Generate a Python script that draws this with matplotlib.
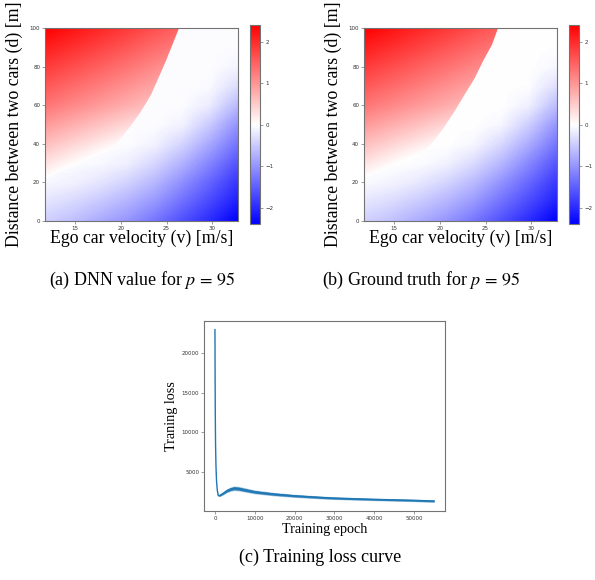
import numpy as np
import matplotlib.pyplot as plt
from matplotlib.patches import Polygon

plt.rcParams['font.family'] = ['Liberation Serif', 'DejaVu Serif']
plt.rcParams['mathtext.fontset'] = 'stix'

# value grid, rows = distance, cols = velocity
vel = [11.7, 14.7, 17.7, 20.7, 23.7, 26.7, 29.7, 32.7]
dist = [0, 10, 20, 30, 40, 50, 60, 70, 80, 90, 100]

dnn_low = [
    [-0.45, -0.60, -0.80, -1.00, -1.30, -1.65, -2.00, -2.40],
    [-0.25, -0.36, -0.52, -0.72, -0.98, -1.35, -1.72, -2.12],
    [-0.07, -0.13, -0.25, -0.42, -0.68, -1.05, -1.45, -1.88],
    [-0.02, -0.03, -0.06, -0.15, -0.38, -0.72, -1.15, -1.60],
    [-0.02, -0.02, -0.02, -0.03, -0.12, -0.40, -0.82, -1.30],
    [-0.02, -0.02, -0.02, -0.02, -0.03, -0.12, -0.50, -1.00],
    [-0.02, -0.02, -0.02, -0.02, -0.02, -0.03, -0.18, -0.65],
    [-0.02, -0.02, -0.02, -0.02, -0.02, -0.02, -0.05, -0.32],
    [-0.02, -0.02, -0.02, -0.02, -0.02, -0.02, -0.03, -0.10],
    [-0.02, -0.02, -0.02, -0.02, -0.02, -0.02, -0.02, -0.04],
    [-0.02, -0.02, -0.02, -0.02, -0.02, -0.02, -0.02, -0.03],
]
gt_low = [
    [-0.44, -0.58, -0.78, -0.99, -1.29, -1.64, -2.00, -2.40],
    [-0.24, -0.34, -0.50, -0.70, -0.96, -1.33, -1.70, -2.10],
    [-0.05, -0.11, -0.22, -0.40, -0.65, -1.02, -1.42, -1.86],
    [0.00, 0.00, -0.03, -0.12, -0.34, -0.68, -1.12, -1.58],
    [0.00, 0.00, 0.00, 0.00, -0.08, -0.36, -0.78, -1.28],
    [0.00, 0.00, 0.00, 0.00, 0.00, -0.08, -0.46, -0.98],
    [0.00, 0.00, 0.00, 0.00, 0.00, 0.00, -0.14, -0.62],
    [0.00, 0.00, 0.00, 0.00, 0.00, 0.00, -0.02, -0.30],
    [0.00, 0.00, 0.00, 0.00, 0.00, 0.00, 0.00, -0.08],
    [0.00, 0.00, 0.00, 0.00, 0.00, 0.00, 0.00, -0.02],
    [0.00, 0.00, 0.00, 0.00, 0.00, 0.00, 0.00, 0.00],
]

# safe (red) region values
red_vel = [11.7, 19.2, 26.7]
red_dist = [20, 60, 100]
dnn_red = [
    [-0.07, -0.67, -1.30],
    [1.30, 0.85, 0.40],
    [2.40, 1.95, 1.45],
]
gt_red = [
    [-0.07, -0.65, -1.25],
    [1.30, 0.87, 0.44],
    [2.40, 1.96, 1.50],
]

# edge of the red region
dnn_edge_v = [11.7, 15.0, 18.9, 19.7, 20.9, 22.2, 23.3, 24.9, 26.36]
dnn_edge_d = [22, 29, 37, 41.3, 48.2, 56.8, 65.5, 82.7, 100]
gt_edge_v = [11.7, 15.0, 18.5, 19.3, 20.4, 21.6, 22.7, 23.8, 24.7, 25.7, 26.36]
gt_edge_d = [22, 29, 37, 41.3, 48.2, 56.8, 65.5, 74, 82.7, 91.4, 100]

# training loss, spread = half width of the noisy band
epoch = [0, 40, 80, 150, 250, 400, 600, 830, 1200, 2000, 3000, 4000, 4830,
         6000, 8000, 10000, 12500, 15000, 20000, 26500, 30000, 35000, 40000,
         45000, 50000, 55000]
loss = [23000, 17000, 12500, 8500, 5800, 3800, 2600, 1980, 2000, 2250, 2600,
        2820, 2910, 2860, 2650, 2450, 2300, 2160, 1950, 1750, 1660, 1580,
        1500, 1440, 1375, 1290]
spread = [0, 0, 0, 0, 0, 0, 30, 60, 90, 130, 170, 190, 200, 200, 185, 170,
          160, 150, 135, 125, 120, 115, 110, 110, 110, 110]

W, H = 595, 580
spine_c = '0.45'


def px_axes(l, t, r, b):
    return fig.add_axes([l / W, 1 - b / H, (r - l) / W, (b - t) / H])


def style(ax, size=4):
    for s in ax.spines.values():
        s.set_color(spine_c)
        s.set_linewidth(0.8)
    ax.tick_params(labelsize=size, length=2, width=0.5, pad=1.5,
                   color=spine_c, labelcolor='0.2')
    for lab in ax.get_xticklabels() + ax.get_yticklabels():
        lab.set_family('DejaVu Sans')


def half_step_extent(xs, ys):
    dx = xs[1] - xs[0]
    dy = ys[1] - ys[0]
    return [xs[0] - dx / 2, xs[-1] + dx / 2, ys[0] - dy / 2, ys[-1] + dy / 2]


def value_map(ax, cax, low, red, edge_v, edge_d):
    kw = dict(cmap='bwr', vmin=-2.4, vmax=2.4, origin='lower', aspect='auto',
              interpolation='bilinear', interpolation_stage='data')
    im = ax.imshow(np.array(low), extent=half_step_extent(vel, dist), **kw)
    top = ax.imshow(np.array(red), extent=half_step_extent(red_vel, red_dist), **kw)
    verts = list(zip(edge_v, edge_d)) + [(edge_v[0], 100)]
    top.set_clip_path(Polygon(verts, closed=True, transform=ax.transData))
    ax.set_xlim(11.7, 32.8)
    ax.set_ylim(0, 100)
    ax.set_xticks([15, 20, 25, 30])
    ax.set_yticks([0, 20, 40, 60, 80, 100])
    ax.set_xlabel('Ego car velocity (v) [m/s]', fontsize=12.8)
    ax.set_ylabel('Distance between two cars (d) [m]', fontsize=12.8)
    ax.xaxis.set_label_coords(0.5, -0.045)
    ax.yaxis.set_label_coords(-0.112, 0.5)
    style(ax)
    cb = fig.colorbar(im, cax=cax, ticks=[-2, -1, 0, 1, 2])
    cb.outline.set_edgecolor(spine_c)
    cb.outline.set_linewidth(0.8)
    cax.tick_params(labelsize=4, length=2, width=0.5, pad=1.5,
                    color=spine_c, labelcolor='0.2')
    for lab in cax.get_yticklabels():
        lab.set_family('DejaVu Sans')


fig = plt.figure(figsize=(W / 100, H / 100), dpi=100)

ax_a = px_axes(45, 28, 238, 221)
cax_a = px_axes(249.7, 25, 260.3, 224.3)
value_map(ax_a, cax_a, dnn_low, dnn_red, dnn_edge_v, dnn_edge_d)

ax_b = px_axes(364, 28, 557, 221)
cax_b = px_axes(568.7, 25, 579.3, 224.3)
value_map(ax_b, cax_b, gt_low, gt_red, gt_edge_v, gt_edge_d)

ax_c = px_axes(204, 321, 445, 511)
ep = np.array(epoch)
ls = np.array(loss)
sp = np.array(spread)
ax_c.fill_between(ep, ls - 1.5 * sp, ls + 1.5 * sp, color='#1f77b4', lw=0, alpha=0.35)
ax_c.fill_between(ep, ls - sp, ls + sp, color='#1f77b4', lw=0, alpha=0.9)
ax_c.plot(ep, ls, color='#1f77b4', lw=1.0)
ax_c.set_xticks([0, 10000, 20000, 30000, 40000, 50000])
ax_c.set_yticks([5000, 10000, 15000, 20000])
ax_c.set_xlabel('Training epoch', fontsize=10.2)
ax_c.set_ylabel('Traning loss', fontsize=10.2)
ax_c.xaxis.set_label_coords(0.5, -0.062)
ax_c.yaxis.set_label_coords(-0.108, 0.5)
style(ax_c)

fig.text(142 / W, 1 - 280 / H, '(a) DNN value for $p\\,=\\,95$',
         ha='center', va='center', fontsize=13)
fig.text(421.5 / W, 1 - 280 / H, '(b) Ground truth for $p\\,=\\,95$',
         ha='center', va='center', fontsize=13)
fig.text(320.5 / W, 1 - 557 / H, '(c) Training loss curve',
         ha='center', va='center', fontsize=13)

fig.savefig('out.png', dpi=100)
